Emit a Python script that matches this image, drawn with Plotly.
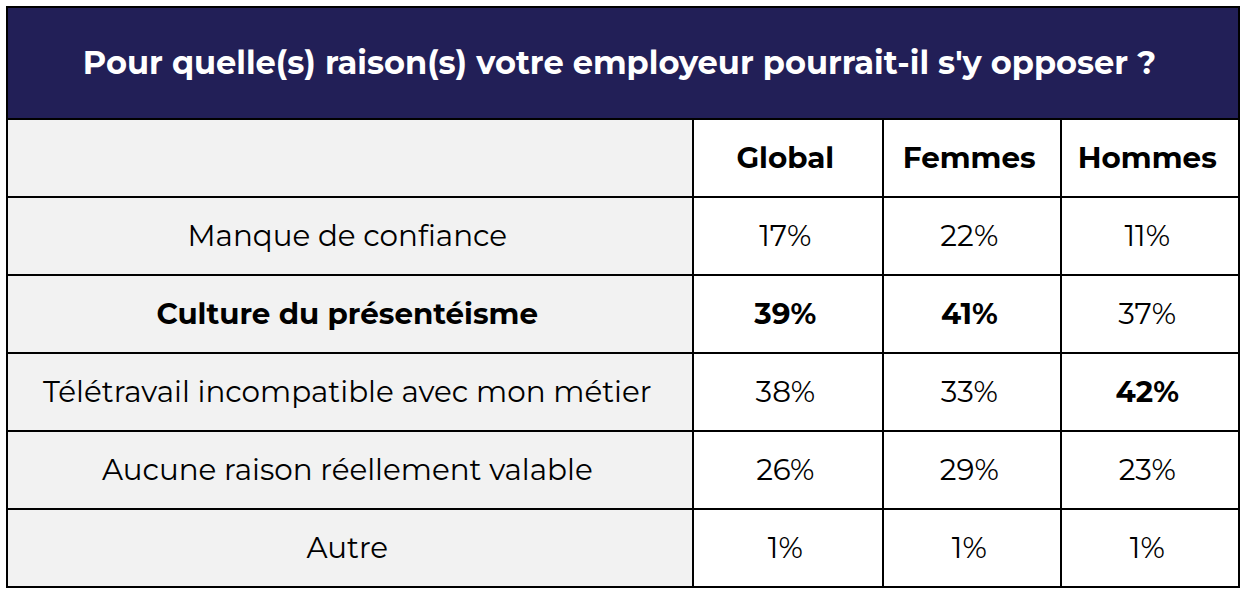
import plotly.graph_objects as go
from itertools import accumulate

title = "Pour quelle(s) raison(s) votre employeur pourrait-il s'y opposer ?"
columns = ["", "Global", "Femmes", "Hommes"]
reasons = ["Manque de confiance", "<b>Culture du présentéisme</b>", "Télétravail incompatible avec mon métier",
           "Aucune raison réellement valable", "Autre"]
global_vals = ["17%", "<b>39%</b>", "38%", "26%", "1%"]
femmes_vals = ["22%", "<b>41%</b>", "33%", "29%", "1%"]
hommes_vals = ["11%", "37%", "<b>42%</b>", "23%", "1%"]

FONT = "Montserrat, Inter, Lato, sans-serif"
W, H = 1248, 596
col_widths = [686, 190, 178, 178]
row_heights = [78] * 6
x_edges = list(accumulate(col_widths, initial=7))
y_edges = list(accumulate(row_heights, initial=119))
top = 7
TEXT_DX = -2.7
TEXT_DY = 3

header = [f"<b>{c}</b>" if c else "" for c in columns]
table_columns = [reasons, global_vals, femmes_vals, hommes_vals]

fig = go.Figure()
shapes = []


def rect(x0, y0, x1, y1, fill):
    return dict(type="rect", xref="x", yref="y", x0=x0, y0=y0, x1=x1, y1=y1,
                fillcolor=fill, line=dict(color="#000000", width=2), layer="below")


shapes.append(rect(x_edges[0], top, x_edges[-1], y_edges[0], "#221f57"))
for c in range(4):
    for r in range(6):
        fill = "#f2f2f2" if c == 0 else "#ffffff"
        shapes.append(rect(x_edges[c], y_edges[r], x_edges[c + 1], y_edges[r + 1], fill))

fig.add_trace(go.Scatter(
    x=[(x_edges[0] + x_edges[-1]) / 2 - 3.5], y=[(top + y_edges[0]) / 2 + TEXT_DY],
    text=[f"<b>{title}</b>"], mode="text", textposition="middle center",
    textfont=dict(family=FONT, size=32.1, color="#ffffff"), hoverinfo="skip", showlegend=False, cliponaxis=False,
))
for c in range(4):
    cx = (x_edges[c] + x_edges[c + 1]) / 2 + TEXT_DX
    texts = [header[c]] + table_columns[c]
    cys = [(y_edges[r] + y_edges[r + 1]) / 2 + TEXT_DY for r in range(6)]
    fig.add_trace(go.Scatter(
        x=[cx] * 6, y=cys, text=texts, mode="text", textposition="middle center",
        textfont=dict(family=FONT, size=29.4, color="#000000"), hoverinfo="skip", showlegend=False, cliponaxis=False,
    ))

fig.update_layout(
    width=W, height=H, margin=dict(l=0, r=0, t=0, b=0), paper_bgcolor="white", plot_bgcolor="white",
    shapes=shapes,
    xaxis=dict(range=[0, W], visible=False, fixedrange=True),
    yaxis=dict(range=[H, 0], visible=False, fixedrange=True),
)
fig.write_html("out.html", post_script="document.body.style.margin='0';document.body.style.overflow='hidden';",
               config={"displayModeBar": False})
